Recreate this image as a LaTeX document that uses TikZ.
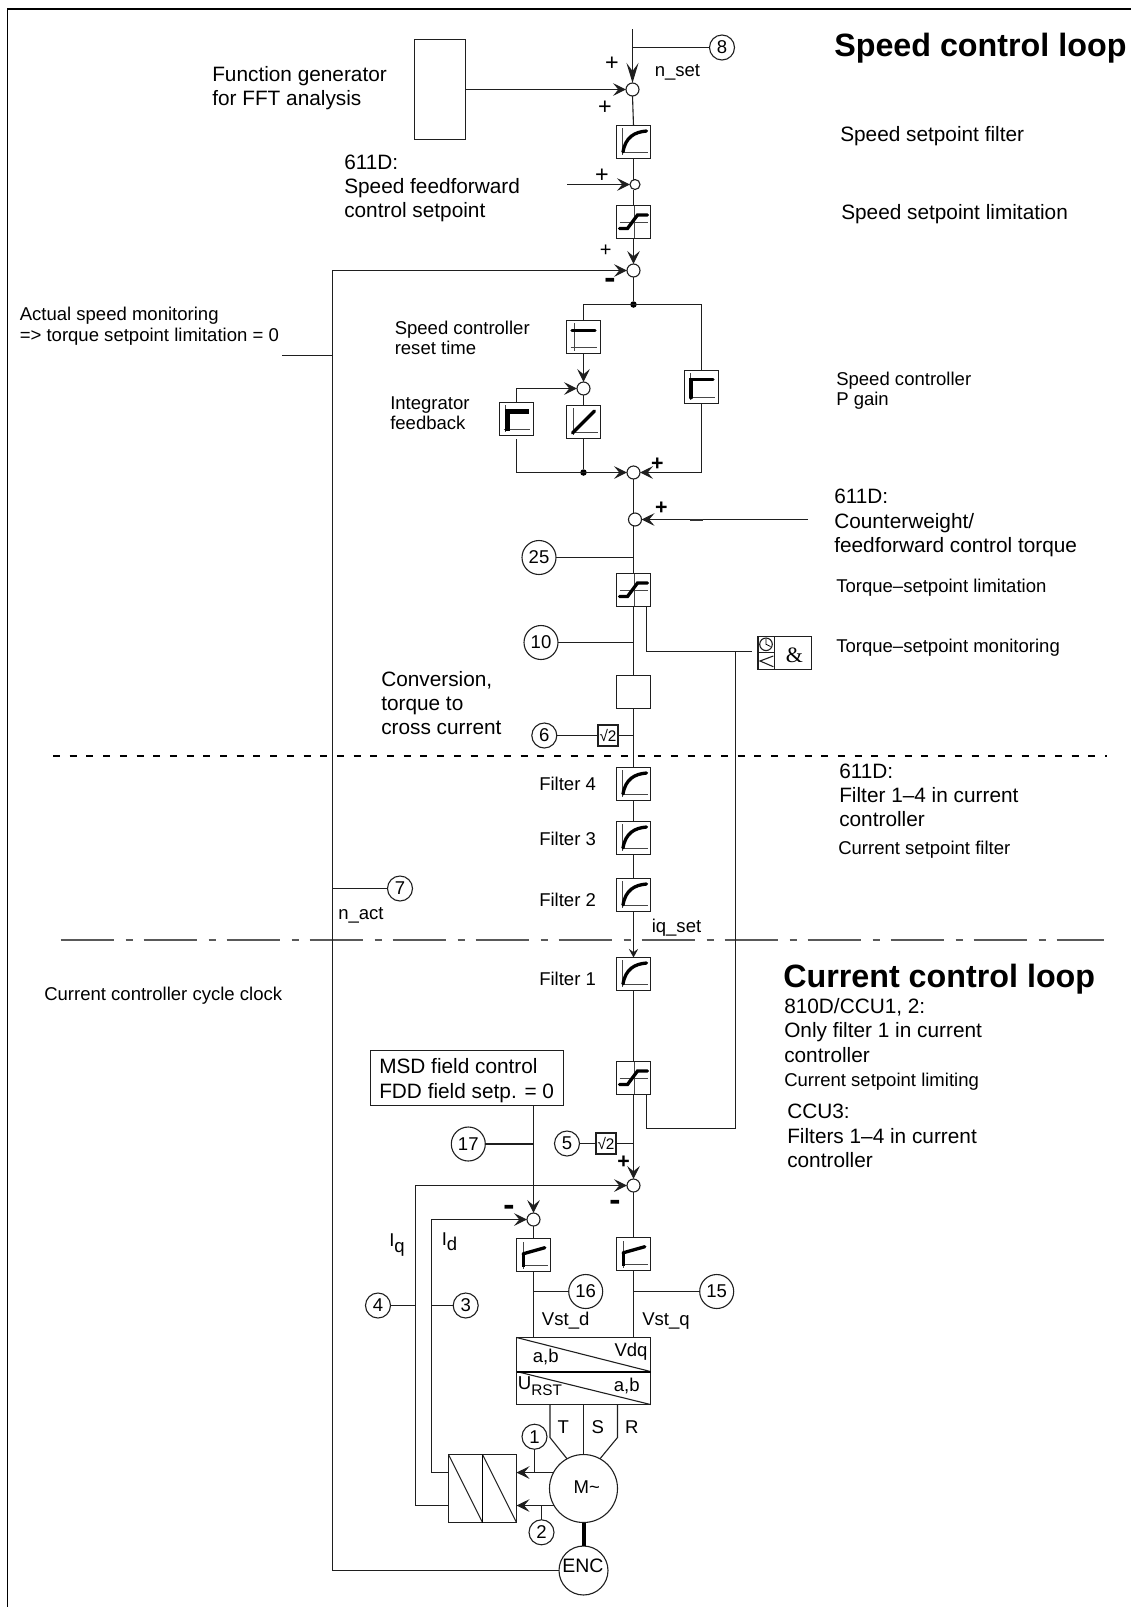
\documentclass[tikz,border=0pt]{standalone}
\usepackage{fontspec}
\usepackage{graphicx}
\setmainfont{Liberation Sans}
\newfontfamily\ampfont{Liberation Serif}
\usetikzlibrary{arrows.meta,calc}
\newdimen\upx \upx=0.75pt
\tikzset{
  x=0.75pt,y=-0.75pt,
  wire/.style={line width=1.1\upx,draw=black!88},
  arr/.style={wire,-{Stealth[length=9.75pt,width=9.5pt,inset=4pt]}},
  arrlong/.style={wire,-{Stealth[length=15pt,width=9pt,inset=6pt]}},
  arrsmall/.style={wire,-{Stealth[length=6.5pt,width=7pt,inset=2.5pt]}},
  ctrlbox/.style={draw=black!88,line width=1.1\upx,rectangle,minimum width=34\upx,minimum height=33\upx,inner sep=0pt,outer sep=0pt},
  sumL/.style={draw=black!88,line width=1.1\upx,circle,minimum size=13\upx,inner sep=0pt,outer sep=0pt},
  sumS/.style={sumL,minimum size=10\upx},
  numL/.style={draw=black!88,line width=1.1\upx,circle,minimum size=34\upx,inner sep=0pt,outer sep=0pt,font=\fontsize{13.9}{16}\selectfont},
  numS/.style={numL,minimum size=25\upx},
  dot/.style={fill=black,circle,minimum size=6.5\upx,inner sep=0pt,outer sep=0pt},
  txtA/.style={anchor=west,inner sep=0pt,align=left,font=\fontsize{15.6}{18.2}\selectfont},
  txtB/.style={anchor=west,inner sep=0pt,align=left,font=\fontsize{13.9}{15}\selectfont},
  txtT/.style={anchor=west,inner sep=0pt,font=\fontsize{24.2}{28}\selectfont\bfseries},
  sign/.style={inner sep=0pt,font=\fontsize{17.5}{18}\selectfont},
  signs/.style={inner sep=0pt,font=\fontsize{15}{16}\selectfont},
  signb/.style={inner sep=0pt,font=\fontsize{16}{16}\selectfont\bfseries},
  sqrtbox/.style={ctrlbox,minimum width=20\upx,minimum height=21\upx,font=\fontsize{11.5}{12}\selectfont},
  icoaxis/.style={line width=0.9\upx,draw=black!72},
  icocurve/.style={line width=3.3\upx,line cap=round,draw=black},
  pics/filtericon/.style={code={
    \draw[icoaxis] (-11,-14) -- (-11,13);
    \draw[icoaxis] (-11,10) -- (14,10);
    \draw[icocurve] (-10.5,10) .. controls (-8,-5) and (1,-10) .. (13,-11);
  }},
  pics/limiticon/.style={code={
    \draw[icoaxis] (0.5,-16) -- (0.5,16);
    \draw[icoaxis] (-14,0) -- (14,0);
    \draw[icocurve] (-14,6.5) -- (-6,6.5) -- (4,-7) -- (14,-7);
  }},
  pics/flaticon/.style={code={
    \draw[icoaxis] (-9.5,-14) -- (-9.5,14);
    \draw[icoaxis] (-13,10.7) -- (13.5,10.7);
    \draw[icocurve] (-11.5,-6.3) -- (11.5,-6.3);
  }},
  pics/gainicon/.style={code={
    \draw[icoaxis] (-10.8,-14) -- (-10.8,13);
    \draw[icoaxis] (-12.5,10.4) -- (13.5,10.4);
    \draw[icocurve,line join=miter] (-10.4,10.7) -- (-10.4,-7.3) -- (11.5,-7.3);
  }},
  pics/feedbackicon/.style={code={
    \draw[icoaxis] (-11,-14) -- (-11,13);
    \draw[icoaxis] (-13,10.4) -- (13.5,10.4);
    \draw[icocurve,line width=4.6\upx,line cap=butt] (-9.3,11.7) -- (-9.3,-7.3) -- (12,-7.3);
  }},
  pics/integicon/.style={code={
    \draw[icoaxis] (-10.5,-14) -- (-10.5,13);
    \draw[icoaxis] (-11,10) -- (14,10);
    \draw[icocurve] (-11,11) -- (11,-11);
  }},
  pics/piicon/.style={code={
    \draw[icoaxis] (-10.4,-13) -- (-10.4,14);
    \draw[icoaxis] (-11,10) -- (14,10);
    \draw[icocurve,line width=3.4\upx,line cap=butt] (-9.8,11.7) -- (-9.8,-1.7);
    \draw[icocurve] (-10.4,-1.2) -- (11.3,-7.3);
  }},
}
\begin{document}
\begin{tikzpicture}
\useasboundingbox (0,0) rectangle (1131,1607);
% frame and separators
\draw[line width=1.6\upx,draw=black] (7.5,1607) -- (7.5,9) -- (1131,9);
\draw[line width=1.8\upx,draw=black,dash pattern=on 7\upx off 9.7\upx] (53,756) -- (1107,756);
\draw[line width=1.5\upx,draw=black!65,dash pattern=on 53\upx off 12\upx on 7\upx off 11\upx] (60.6,940) -- (1104,940);
% main column nodes
\node[numS] (n8) at (722,47.5) {8};
\coordinate (top) at (632.5,29);
\coordinate (b8) at (632.5,47.5);
\node[sumL] (s1) at (632.5,89.5) {};
\node[ctrlbox,minimum width=51\upx,minimum height=100\upx] (fg) at (440,89.5) {};
\node[ctrlbox] (f1) at (633.5,142) {};
\node[sumS] (s2) at (635,184.5) {};
\coordinate (ffin) at (567,184.5);
\node[ctrlbox] (l1) at (633.5,222) {};
\node[sumL] (s3) at (633.5,270.5) {};
\node[dot] (d1) at (633.5,304.5) {};
\coordinate (brL) at (583.5,304.5);
\coordinate (brR) at (701.5,304.5);
\node[ctrlbox] (res) at (583.5,337) {};
\node[sumL] (sint) at (583.5,388.5) {};
\node[ctrlbox] (integ) at (583.5,422) {};
\node[ctrlbox] (ifb) at (516.5,419) {};
\coordinate (ifbout) at (516.5,439);
\node[ctrlbox] (pg) at (701.5,387) {};
\node[sumL] (s4) at (633.5,472.5) {};
\node[dot] (d2) at (583.5,472.5) {};
\node[sumL] (s5) at (635,519.5) {};
\coordinate (cwin) at (808,519.5);
\node[numL] (n25) at (539,557.5) {25};
\coordinate (t25) at (633.5,557.5);
\node[ctrlbox] (l2) at (633.5,590) {};
\node[numL] (n10) at (541,642.5) {10};
\coordinate (t10) at (633.5,642.5);
\node[ctrlbox] (conv) at (633.5,692) {};
\node[numS] (n6) at (544.3,735.5) {6};
\node[sqrtbox] (r6) at (608,735.5) {√2};
\coordinate (t6) at (633.5,735.5);
\node[ctrlbox] (f4) at (633.5,784) {};
\node[ctrlbox] (f3) at (633.5,838) {};
\node[ctrlbox] (f2) at (633.5,895) {};
\node[ctrlbox] (fc1) at (633.5,974) {};
\node[ctrlbox] (l3) at (633.5,1078) {};
\node[numS] (n5) at (567,1143.5) {5};
\node[sqrtbox] (r5) at (606,1143.5) {√2};
\coordinate (t5) at (633.5,1143.5);
\node[sumL] (sq) at (633.5,1185.5) {};
\node[ctrlbox] (piq) at (633.5,1254) {};
\coordinate (t15) at (633.5,1291.5);
\node[numL] (n15) at (716.7,1291.5) {15};
% field branch
\node[ctrlbox,minimum width=193\upx,minimum height=55\upx] (msd) at (467,1078) {};
\coordinate (msdout) at (533.5,1105.5);
\node[numL] (n17) at (468.3,1144) {17};
\coordinate (t17) at (533.5,1144);
\node[sumL] (sd) at (533.5,1219.5) {};
\node[ctrlbox] (pid) at (533.5,1255) {};
\coordinate (t16) at (533.5,1291.5);
\node[numL] (n16) at (585.7,1291.5) {16};
% converter and motor
\node[ctrlbox,minimum width=134\upx,minimum height=34\upx] (xa) at (583.5,1354.5) {};
\node[ctrlbox,minimum width=134\upx,minimum height=33\upx] (xb) at (583.5,1388) {};
\node[draw=black!88,line width=1.1\upx,circle,minimum size=68\upx,inner sep=0pt,outer sep=0pt] (mot) at (583.5,1488.5) {};
\node[draw=black!88,line width=1.1\upx,circle,minimum size=49\upx,inner sep=0pt,outer sep=0pt] (enc) at (583.5,1570.5) {};
\node[ctrlbox,minimum width=34\upx,minimum height=68\upx] (da) at (465.5,1488.5) {};
\node[ctrlbox,minimum width=34\upx,minimum height=68\upx] (db) at (499.5,1488.5) {};
\node[numS] (n1) at (534.5,1436.7) {1};
\node[numS] (n2) at (541.5,1532.3) {2};
\node[numS] (n3) at (465.7,1305.5) {3};
\node[numS] (n4) at (378,1305.5) {4};
\coordinate (idb) at (431.5,1472.5);
\coordinate (iqb) at (415.5,1505.5);
\coordinate (t3) at (431.5,1305.5);
\coordinate (t4) at (415.5,1305.5);
% monitoring block
\node[ctrlbox,minimum width=53.5\upx,minimum height=33\upx] (andb) at (784.7,653) {};
\coordinate (mon0) at (752,651.5);
\coordinate (mon1) at (735.5,651.5);
\coordinate (mon2) at (735.5,1128.5);
% speed feedback
\coordinate (fbb) at (332.5,1570.5);
\coordinate (fbm) at (332.5,355.5);
\coordinate (mons) at (282,355.5);
\coordinate (fb7) at (332.5,888.5);
\node[numS] (n7) at (400,888.5) {7};
%
% connectors
\draw[wire] (top) -- (b8);
\draw[wire] (b8) -- (n8);
\draw[arrlong] (b8) -- (s1.north);
\draw[arr] (fg.east) -- (s1.west);
\draw[wire] (s1.south) -- (f1.north);
\draw[wire] (f1.south) -- (f1.south |- s2.north);
\draw[arr] (ffin) -- (s2.west);
\draw[wire] (l1.north |- s2.south) -- (l1.north);
\draw[arr] (l1.south) -- (s3.north);
\draw[arr] (enc.west) -- (fbb) |- (s3.west);
\draw[wire] (mons) -- (fbm);
\draw[wire] (fb7) -- (n7);
\draw[wire] (s3.south) -- (d1);
\draw[wire] (res.north) -- (brL) -- (brR) -- (pg.north);
\draw[arr] (res.south) -- (sint.north);
\draw[wire] (sint.south) -- (integ.north);
\draw[arr] (ifb.north) |- (sint.west);
\draw[wire] (integ.south) -- (d2);
\draw[arr] (ifbout) |- (s4.west);
\draw[arr] (pg.south) |- (s4.east);
\draw[wire] (s4.south) -- (s4.south |- s5.north);
\draw[arr] (cwin) -- (s5.east);
\draw[line width=2\upx,draw=black!80] (690,519.5) -- (702.5,519.5);
\draw[wire] (l2.north |- s5.south) -- (l2.north);
\draw[wire] (n25) -- (t25);
\draw[wire] (l2.south) -- (conv.north);
\draw[wire] (n10) -- (t10);
\draw[wire] ([xshift=13\upx]l2.south) |- (mon0);
\draw[wire] ([xshift=13\upx]l3.south) |- (mon2) -- (mon1);
\draw[wire] (conv.south) -- (f4.north);
\draw[wire] (n6) -- (r6);
\draw[wire] (r6) -- (t6);
\draw[wire] (f4.south) -- (f3.north);
\draw[wire] (f3.south) -- (f2.north);
\draw[arrsmall] (f2.south) -- (fc1.north);
\draw[wire] (fc1.south) -- (l3.north);
\draw[arr] (l3.south) -- (sq.north);
\draw[wire] (n5) -- (r5);
\draw[wire] (r5) -- (t5);
\draw[wire] (sq.south) -- (piq.north);
\draw[wire] (piq.south) -- (piq.south |- xa.north);
\draw[wire] (t15) -- (n15);
\draw[arr] (msdout) -- (sd.north);
\draw[wire] (n17) -- (t17);
\draw[wire] (sd.south) -- (pid.north);
\draw[wire] (pid.south) -- (pid.south |- xa.north);
\draw[wire] (t16) -- (n16);
\draw[arr] (da.west |- idb) -- (idb) |- (sd.west);
\draw[arr] (da.west |- iqb) -- (iqb) |- (sq.west);
\draw[wire] (n3) -- (t3);
\draw[wire] (n4) -- (t4);
\draw[wire] ([xshift=-33.5\upx]xb.south) -- ++(0,33) -- (mot.119);
\draw[wire] (xb.south) -- (mot.north);
\draw[wire] ([xshift=34\upx]xb.south) -- ++(0,33) -- (mot.61);
\draw[line width=4\upx,draw=black] (mot.south) -- (enc.north);
\draw[arr] (mot.152) -- (mot.152 -| db.east);
\draw[arr] (mot.210) -- (mot.210 -| db.east);
\draw[wire] (n1.south) -- (n1.south |- mot.152);
\draw[wire] (n2.north) -- (n2.north |- mot.210);
%
% details in boxes
\draw[wire] (xa.north west) -- (xa.south east);
\draw[wire] (xb.north west) -- (xb.south east);
\draw[line width=2\upx,draw=black] (xa.south west) -- (xa.south east);
\draw[wire] (da.north west) -- (da.south east);
\draw[wire] (db.north west) -- (db.south east);
\draw[line width=1.6\upx,draw=black] (da.north east) -- (da.south east);
\pic at (f1) {filtericon};
\pic at (f4) {filtericon};
\pic at (f3) {filtericon};
\pic at (f2) {filtericon};
\pic at (fc1) {filtericon};
\pic at (l1) {limiticon};
\pic at (l2) {limiticon};
\pic at (l3) {limiticon};
\pic at (res) {flaticon};
\pic at (pg) {gainicon};
\pic at (ifb) {feedbackicon};
\pic at (integ) {integicon};
\pic at (pid) {piicon};
\pic at (piq) {piicon};
% monitoring block details
\draw[wire] (774.7,636.5) -- (774.7,669.5);
\draw[wire] (758,652.5) -- (774.7,652.5);
\draw[wire] (766,644.3) circle[radius=6.3];
\draw[line width=0.8\upx] (766,638.5) -- (766,644.3) -- (770.5,646.5);
\draw[wire] (773.3,656) -- (760,661) -- (773.3,666.7);
\node[inner sep=0pt,font=\ampfont\fontsize{16.5}{18}\selectfont] (amp) at (794.3,655.5) {\&};
%
% text
\node[txtT] (t1) at (834,48) {Speed control loop};
\node[txtT] (t2) at (783,979) {Current control loop};
\node[txtA,font=\fontsize{15.6}{19}\selectfont] (msdt) at (379,1080.5) {MSD field control\\FDD field setp. = 0};
\node[txtA] (a1) at (212,88) {Function generator\\for FFT analysis};
\node[txtA] (a2) at (840,136) {Speed setpoint filter};
\node[txtA] (a3) at (344,188.5) {611D:\\Speed feedforward\\control setpoint};
\node[txtA] (a4) at (841,214) {Speed setpoint limitation};
\node[txtB,font=\fontsize{13.9}{16}\selectfont] (b1) at (19.5,326.5) {Actual speed monitoring\\=> torque setpoint limitation = 0};
\node[txtB] (b2) at (394.5,337.5) {Speed controller\\reset time};
\node[txtB] (b3) at (390,413.5) {Integrator\\feedback};
\node[txtB] (b4) at (836,390.5) {Speed controller\\P gain};
\node[txtA] (a5) at (834,523) {611D:\\Counterweight/\\feedforward control torque};
\node[txtB] (b5) at (836,587.5) {Torque–setpoint limitation};
\node[txtB] (b6) at (836,647.5) {Torque–setpoint monitoring};
\node[txtA] (a6) at (381,703) {Conversion,\\torque to\\cross current};
\node[txtA] (a7) at (839,795.5) {611D:\\Filter 1–4 in current\\controller};
\node[txtB] (b7) at (838,850) {Current setpoint filter};
\node[txtB] (b8t) at (44,996) {Current controller cycle clock};
\node[txtA] (a8) at (784,1030.5) {810D/CCU1, 2:\\Only filter 1 in current\\controller};
\node[txtB] (b9) at (784,1082) {Current setpoint limiting};
\node[txtA] (a9) at (787,1136) {CCU3:\\Filters 1–4 in current\\controller};
\node[txtB] (f4t) at (539,784) {Filter 4};
\node[txtB] (f3t) at (539,839) {Filter 3};
\node[txtB] (f2t) at (539,899.5) {Filter 2};
\node[txtB] (f1t) at (539,978.5) {Filter 1};
\node[txtB] (nset) at (654.5,72.5) {n\_set};
\node[txtB] (nact) at (338,915) {n\_act};
\node[txtB] (iqset) at (651.5,928) {iq\_set};
\node[txtB] (vd) at (541.7,1321) {Vst\_d};
\node[txtB] (vq) at (642,1321) {Vst\_q};
\node[txtB] (iq) at (389,1245) {I\raisebox{-4pt}{q}};
\node[txtB] (id) at (441.5,1242) {I\raisebox{-4pt}{d}};
\node[txtB,anchor=center] (ab1) at (545.7,1357) {a,b};
\node[txtB,anchor=center] (vdq) at (631,1351.7) {Vdq};
\node[txtB,font=\fontsize{14}{15}\selectfont] (urst) at (517.5,1386) {U\raisebox{-5pt}{\fontsize{11.5}{13}\selectfont RST}};
\node[txtB,anchor=center] (ab2) at (626.7,1385.7) {a,b};
\node[txtB,anchor=center] (tt) at (563.3,1427) {T};
\node[txtB,anchor=center] (ts) at (597.7,1427) {S};
\node[txtB,anchor=center] (tr) at (631.7,1427) {R};
\node[txtB,anchor=center] (mt) at (586.7,1486.7) {M\char`\~};
\node[txtB,anchor=center,font=\fontsize{14.6}{16}\selectfont] (ent) at (583,1566) {ENC};
% signs
\node[sign] (p1) at (612,64) {+};
\node[sign] (p2) at (605,108) {+};
\node[sign] (p3) at (602,175.5) {+};
\node[signs] (p4) at (605.7,251) {+};
\node[signb] (p5) at (657.3,464) {+};
\node[signb] (p6) at (661.3,508.5) {+};
\node[signb] (p7) at (623.7,1162.3) {+};
\node[signb,font=\fontsize{13}{16}\selectfont\bfseries] (m1) at (610,284) {\scalebox{1}[2.2]{–}};
\node[signb,font=\fontsize{13}{16}\selectfont\bfseries] (m2) at (509,1211) {\scalebox{1}[2.2]{–}};
\node[signb,font=\fontsize{13}{16}\selectfont\bfseries] (m3) at (615.3,1206) {\scalebox{1}[2.2]{–}};
\end{tikzpicture}
\end{document}
